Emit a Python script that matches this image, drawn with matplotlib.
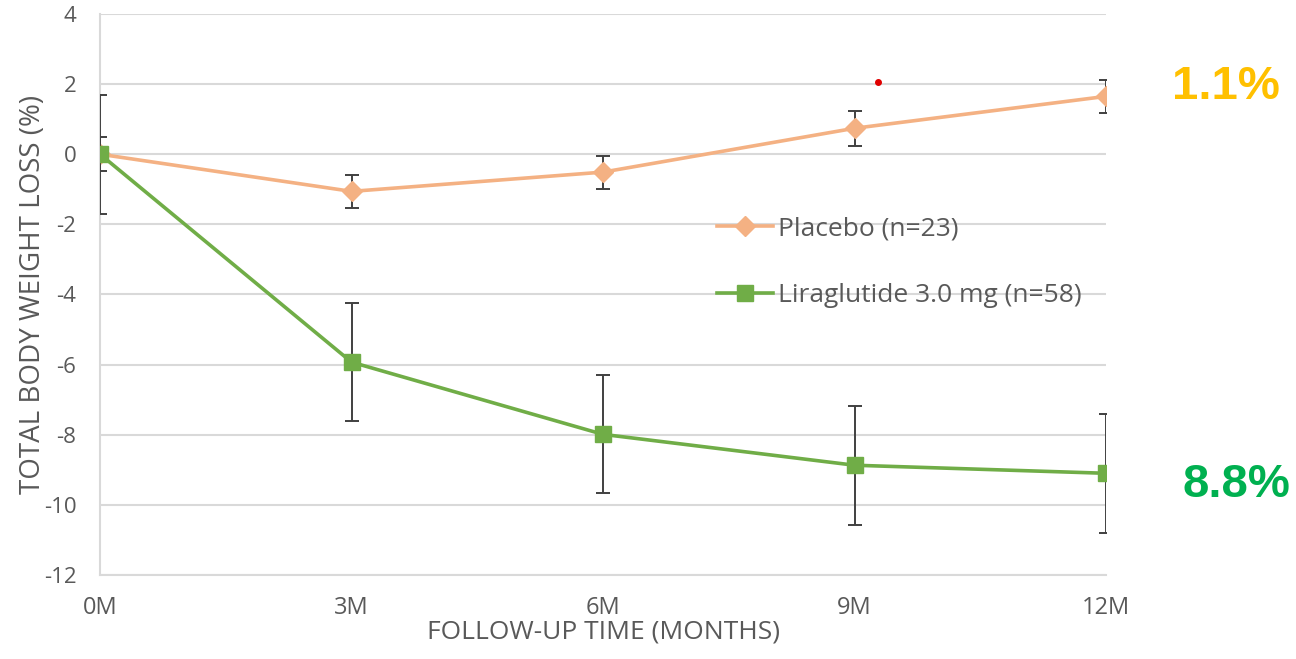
import matplotlib
matplotlib.use('Agg')
from matplotlib import pyplot as plt
from matplotlib.lines import Line2D

months = [0, 3, 6, 9, 12]
tick_labels = ['0M', '3M', '6M', '9M', '12M']

placebo = [0, -1.06, -0.51, 0.74, 1.65]
placebo_err = [0.48, 0.47, 0.47, 0.5, 0.48]

lira = [0, -5.93, -7.99, -8.87, -9.1]
lira_err = [1.7, 1.69, 1.68, 1.7, 1.69]

red_dot = (9.28, 2.05)

plt.rcParams['font.family'] = ['Open Sans', 'DejaVu Sans']
plt.rcParams['axes.unicode_minus'] = False

fig = plt.figure(figsize=(12.96, 6.59), dpi=100)
ax = fig.add_axes([0.0772, 0.1275, 0.7762, 0.8513])

grey = '#d9d9d9'
txt = '#595959'
c_plac = '#f4b183'
c_lira = '#70ad47'

ax.errorbar(months, placebo, yerr=placebo_err, color=c_plac, lw=2.6,
            marker='D', markersize=10, ecolor='#404040', elinewidth=1.4,
            capsize=5, capthick=1.4, zorder=3)
ax.errorbar(months, lira, yerr=lira_err, color=c_lira, lw=2.6,
            marker='s', markersize=11, ecolor='#404040', elinewidth=1.4,
            capsize=5, capthick=1.4, zorder=4)

ax.plot(*red_dot, 'o', color='#e00000', markersize=4, zorder=5)

ax.set_xlim(0, 12)
ax.set_ylim(-12, 4)
ax.set_yticks(range(-12, 5, 2))
ax.set_xticks(months)
ax.set_xticklabels(tick_labels)
ax.yaxis.grid(True, color=grey, lw=1.5)
ax.set_axisbelow(True)
for s in ['top', 'right']:
    ax.spines[s].set_visible(False)
for s in ['left', 'bottom']:
    ax.spines[s].set_color(grey)
    ax.spines[s].set_linewidth(1.5)
ax.tick_params(length=0, colors=txt)
ax.tick_params(axis='x', pad=15, labelsize=17)
ax.tick_params(axis='y', pad=17, labelsize=16)

ax.set_xlabel('FOLLOW-UP TIME (MONTHS)', color=txt, fontsize=19, labelpad=0)
ax.set_ylabel('TOTAL BODY WEIGHT LOSS (%)', color=txt, fontsize=20, labelpad=-2)

handles = [
    Line2D([], [], color=c_plac, lw=2.6, marker='D', markersize=10),
    Line2D([], [], color=c_lira, lw=2.6, marker='s', markersize=11),
]
labels = ['Placebo (n=23)', 'Liraglutide 3.0 mg (n=58)']
leg = ax.legend(handles, labels, loc='upper left', bbox_to_anchor=(0.59, 0.682),
                frameon=False, fontsize=19, labelspacing=1.6, handlelength=2.1,
                handletextpad=0.2)
for t in leg.get_texts():
    t.set_color(txt)

fig.text(0.946, 0.868, '1.1%', color='#ffc000', fontsize=34, fontweight='bold',
         ha='center', va='center', family='Liberation Sans')
fig.text(0.954, 0.264, '8.8%', color='#00b050', fontsize=34, fontweight='bold',
         ha='center', va='center', family='Liberation Sans')

fig.savefig('out.png', dpi=100)
